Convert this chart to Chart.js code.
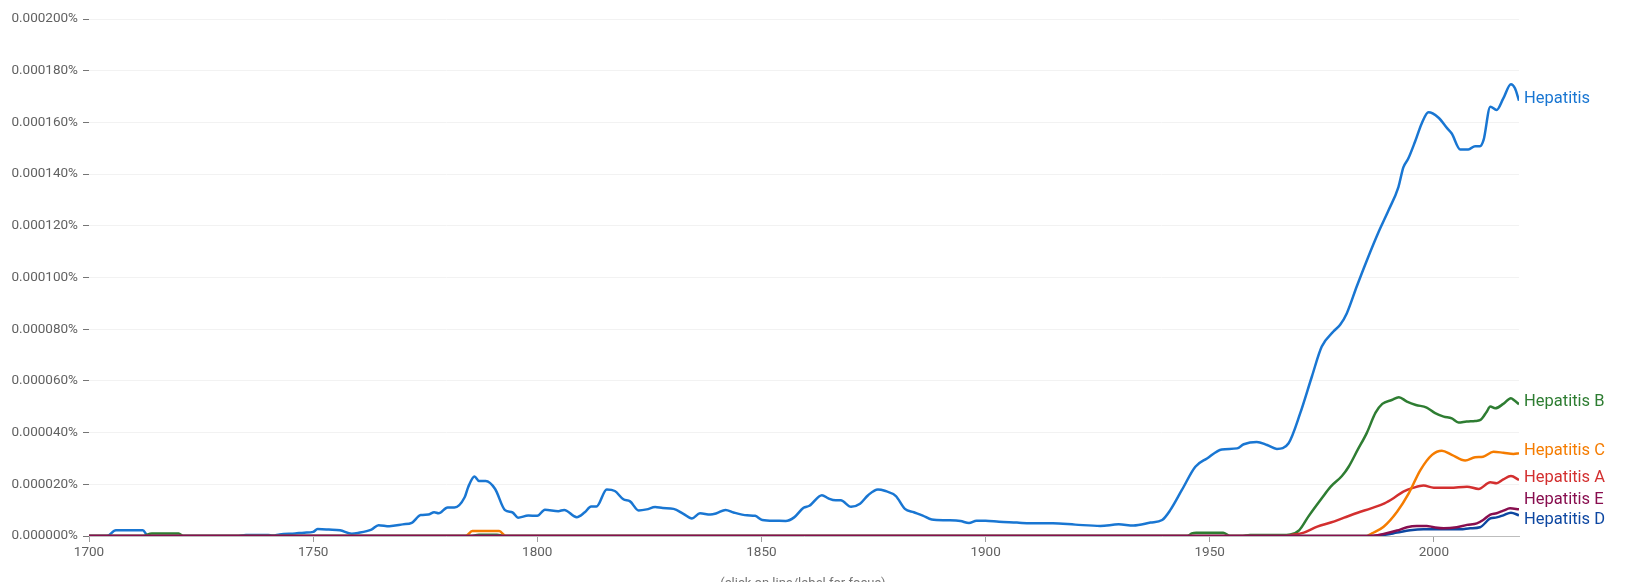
<!DOCTYPE html>
<html lang="en">
<head>
<meta charset="UTF-8">
<title>Hepatitis ngram</title>
<script src="https://cdn.jsdelivr.net/npm/chart.js"></script>
<style>
  html, body { margin: 0; padding: 0; background: #fff; overflow: hidden; }
  #wrap { position: relative; width: 1637px; height: 582px; }
  #hint {
    position: absolute; left: 0; width: 1606px; top: 575px;
    text-align: center; font: 13px Roboto, sans-serif; color: #757575;
  }
</style>
</head>
<body>
<div id="wrap">
  <canvas id="chart" width="1637" height="582"></canvas>
  <div id="hint">(click on line/label for focus)</div>
</div>
<script>
// values are in millionths of a percent (20 = 0.000020%)
const hepatitisYears = [1700, 1704, 1706, 1712, 1713, 1714, 1733, 1735, 1740, 1741, 1742.5, 1746, 1748, 1750, 1751, 1753.5, 1756, 1758.6, 1760, 1763, 1764.6, 1767, 1770, 1772, 1774, 1775.7, 1777, 1778, 1780, 1781.5, 1783.8, 1784.6, 1786, 1787, 1788.5, 1790.6, 1792.8, 1794.5, 1795.7, 1798, 1800, 1801.7, 1804.7, 1806, 1808.8, 1810.6, 1812, 1813.2, 1815.5, 1817.3, 1819.2, 1820.7, 1822.6, 1824.4, 1826.3, 1828, 1830.4, 1832.6, 1834.5, 1836.3, 1838.6, 1840, 1842, 1843.8, 1846.8, 1848.6, 1850.2, 1853.2, 1855.4, 1857.3, 1859.4, 1860.7, 1863.5, 1865, 1866.6, 1867.7, 1870, 1872, 1873.8, 1876, 1877.5, 1880, 1882, 1884, 1886, 1888, 1891.4, 1894.4, 1896.3, 1898, 1900, 1903, 1907, 1910, 1915, 1920, 1925.6, 1929.7, 1933, 1936.8, 1939.4, 1941.2, 1943.8, 1946.8, 1949.4, 1952.7, 1956.1, 1957.6, 1960.5, 1962.8, 1965, 1967.6, 1970.2, 1972.8, 1975, 1977.6, 1979.1, 1980.6, 1982.8, 1985.1, 1987.7, 1989.9, 1992.1, 1993.2, 1994.3, 1995.8, 1997.3, 1998.8, 2001, 2003, 2004, 2005.9, 2007.7, 2009.2, 2010.3, 2011.1, 2012.6, 2014, 2015.5, 2017.2, 2018.1, 2019];
const hepatitisValues = [0, 0, 2.2, 2.2, 0.3, 0, 0, 0.4, 0.4, 0.2, 0.6, 1.0, 1.3, 1.6, 2.7, 2.5, 2.2, 0.9, 1.2, 2.5, 4.2, 3.8, 4.5, 5.1, 8.1, 8.3, 9.2, 8.8, 11, 11, 15, 19, 23, 21.3, 21.3, 18.2, 10, 9.1, 7.1, 7.9, 7.8, 10.2, 9.6, 10.1, 7.3, 9.2, 11.4, 11.4, 18.0, 17.4, 14.2, 13.4, 9.9, 10.3, 11.2, 10.8, 10.5, 8.6, 6.8, 8.8, 8.3, 8.8, 10.1, 9.1, 8.0, 7.8, 6.2, 5.9, 5.8, 7.2, 10.9, 11.7, 15.8, 14.5, 13.8, 13.8, 11.3, 12.5, 15.8, 18.0, 17.5, 15.4, 10.5, 9.2, 7.9, 6.4, 6.1, 5.8, 5.0, 5.9, 5.9, 5.5, 5.2, 4.9, 4.9, 4.4, 3.9, 4.5, 4.1, 5.2, 6.2, 10, 17.8, 26.8, 30, 33.5, 33.9, 35.5, 36.4, 35.2, 33.7, 35.9, 47.5, 61.7, 73.3, 79.1, 81.7, 86.2, 96.5, 106.8, 117.7, 126, 135, 142.6, 146, 152.5, 159.6, 163.9, 161.9, 157.7, 155.7, 149.5, 149.5, 150.8, 150.8, 153.2, 166.1, 164.8, 169.3, 174.8, 173.2, 168.4];

const hepBYears = [1700, 1712, 1714, 1720, 1721, 1785, 1787, 1791, 1793, 1945, 1946, 1947, 1953, 1954.5, 1957, 1959, 1966, 1968, 1970, 1972, 1975, 1977, 1979.5, 1981, 1983, 1985, 1987, 1988.5, 1990.6, 1992.2, 1994, 1996, 1998.4, 2000.3, 2002.2, 2004, 2005.5, 2007.3, 2009.2, 2010.4, 2011.8, 2012.6, 2013.7, 2015.5, 2017.2, 2018, 2019];
const hepBValues = [0, 0, 1.0, 1.0, 0, 0, 0.5, 0.5, 0, 0, 1.0, 1.3, 1.3, 0, 0, 0.4, 0.4, 0.6, 2.3, 7.5, 14.6, 19.1, 23.2, 26.8, 33.3, 39.7, 47.7, 51.1, 52.6, 53.7, 52, 50.7, 49.7, 47.5, 46.2, 45.5, 43.9, 44.3, 44.5, 44.9, 48.1, 50.1, 49.4, 51.1, 53.3, 52.4, 51];

const hepCYears = [1700, 1784, 1785.5, 1791.5, 1793, 1985, 1986.2, 1988.8, 1991.8, 1994.4, 1997, 1999.6, 2001.8, 2004, 2007, 2009.2, 2011, 2013.3, 2015.5, 2017.8, 2019];
const hepCValues = [0, 0, 1.9, 1.9, 0, 0, 1.0, 3.6, 9.4, 16.5, 25.5, 31.4, 33, 31.4, 29.2, 30.5, 30.7, 32.6, 32.2, 31.7, 32];

const hepAYears = [1700, 1967, 1968, 1971, 1974, 1977, 1980, 1983, 1986, 1989, 1991, 1993.2, 1995.5, 1997.7, 2000, 2003.6, 2007.4, 2010, 2012.6, 2014, 2015.5, 2017.2, 2019];
const hepAValues = [0, 0, 0.3, 1.3, 3.6, 5.2, 7.1, 9.0, 10.7, 12.6, 14.6, 17.2, 18.7, 19.5, 18.7, 18.7, 19.1, 18.2, 20.8, 20.4, 21.9, 23.2, 21.7];

const hepEYears = [1700, 1986, 1988.8, 1991.8, 1994, 1996.2, 1998.4, 2000, 2002.2, 2005.1, 2007.4, 2009.6, 2011, 2012.6, 2014, 2015.5, 2017, 2019];
const hepEValues = [0, 0, 0.8, 2.1, 3.4, 3.9, 3.9, 3.4, 3.0, 3.4, 4.3, 4.9, 6.2, 8.3, 8.8, 9.8, 10.7, 10.3];

const hepDYears = [1700, 1986, 1988.8, 1991.8, 1994.7, 1997.7, 2003.6, 2005.9, 2008.1, 2010.3, 2012.6, 2014, 2015.5, 2017.2, 2019];
const hepDValues = [0, 0, 0.4, 1.3, 2.2, 2.6, 2.6, 2.6, 3.0, 3.4, 6.8, 7.2, 8.0, 9.0, 8.0];

const xTicks = [1700, 1750, 1800, 1850, 1900, 1950, 2000];

function points(xs, ys) {
  return xs.map((x, i) => ({ x: x, y: ys[i] }));
}

function series(label, xs, ys, color, order) {
  return {
    label: label,
    data: points(xs, ys),
    borderColor: color,
    backgroundColor: color,
    borderWidth: 2.5,
    pointRadius: 0,
    fill: false,
    cubicInterpolationMode: 'monotone',
    order: order
  };
}

// names drawn at the right end of each line, pushed apart when they collide
const endLabels = {
  id: 'endLabels',
  afterDatasetsDraw(chart) {
    const ctx = chart.ctx;
    const items = chart.data.datasets.map((ds, i) => {
      const meta = chart.getDatasetMeta(i);
      const last = meta.data[meta.data.length - 1];
      return { text: ds.label, color: ds.borderColor, y: last.y - 2 };
    }).sort((a, b) => a.y - b.y);
    const gap = 20;
    for (let k = 0; k < 60; k++) {
      for (let i = 1; i < items.length; i++) {
        const d = items[i].y - items[i - 1].y;
        if (d < gap) {
          const push = (gap - d) / 2;
          items[i].y += push;
          items[i - 1].y -= push;
        }
      }
    }
    ctx.save();
    ctx.font = '16.5px Roboto, sans-serif';
    ctx.textBaseline = 'middle';
    ctx.textAlign = 'left';
    items.forEach(it => {
      ctx.fillStyle = it.color;
      ctx.fillText(it.text, chart.chartArea.right + 5, it.y);
    });
    ctx.restore();
  }
};

new Chart(document.getElementById('chart'), {
  type: 'line',
  data: {
    datasets: [
      series('Hepatitis', hepatitisYears, hepatitisValues, '#1976D2', 5),
      series('Hepatitis B', hepBYears, hepBValues, '#2E7D32', 4),
      series('Hepatitis C', hepCYears, hepCValues, '#F57C00', 2),
      series('Hepatitis A', hepAYears, hepAValues, '#D32F2F', 3),
      series('Hepatitis E', hepEYears, hepEValues, '#880E4F', 0),
      series('Hepatitis D', hepDYears, hepDValues, '#0D47A1', 1)
    ]
  },
  options: {
    responsive: false,
    animation: false,
    devicePixelRatio: 1,
    layout: { padding: { top: 19, right: 118, left: 0, bottom: 0 } },
    plugins: { legend: { display: false }, tooltip: { enabled: false } },
    scales: {
      x: {
        type: 'linear',
        min: 1700,
        max: 2019,
        afterBuildTicks: axis => { axis.ticks = xTicks.map(v => ({ value: v })); },
        afterFit: axis => { axis.height = 46; },
        ticks: {
          callback: v => String(v),
          color: '#616161',
          font: { family: 'Roboto', size: 13.5 },
          padding: 3,
          maxRotation: 0
        },
        grid: { drawOnChartArea: false, tickLength: 6, tickColor: '#9e9e9e' },
        border: { color: '#bdbdbd' }
      },
      y: {
        min: 0,
        max: 200,
        afterFit: axis => { axis.width = 89; },
        ticks: {
          stepSize: 20,
          callback: v => (v / 1e6).toFixed(6) + '%',
          color: '#616161',
          font: { family: 'Roboto', size: 13.5 },
          padding: 5
        },
        grid: { color: '#f2f2f2', tickColor: '#757575', tickLength: 6 },
        border: { display: false }
      }
    }
  },
  plugins: [endLabels]
});
</script>
</body>
</html>
